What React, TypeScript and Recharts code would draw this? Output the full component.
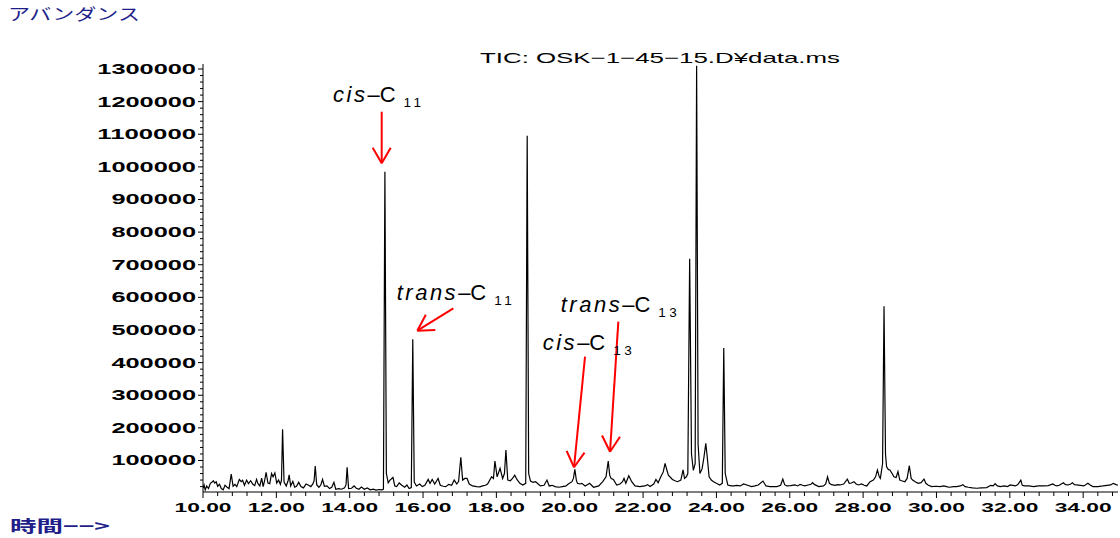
import React from "react";
import { LineChart, Line, XAxis, YAxis, ReferenceLine, ReferenceDot } from "recharts";

// retention time (min) and abundance of the TIC trace
const retentionTime = [
  10.0, 10.03, 10.06, 10.1, 10.15, 10.2, 10.25, 10.28, 10.32, 10.36, 10.4, 10.45, 10.5, 10.55, 10.6, 10.65,
  10.71, 10.77, 10.82, 10.87, 10.92, 10.99, 11.04, 11.08, 11.13, 11.19, 11.24, 11.3, 11.36, 11.41, 11.46,
  11.5, 11.55, 11.6, 11.64, 11.68, 11.72, 11.77, 11.82, 11.87, 11.91, 11.96, 12.01, 12.06, 12.11, 12.14,
  12.17, 12.21, 12.27, 12.32, 12.35, 12.39, 12.45, 12.5, 12.55, 12.61, 12.67, 12.74, 12.81, 12.88, 12.94,
  13.0, 13.03, 13.06, 13.1, 13.16, 13.21, 13.26, 13.31, 13.38, 13.45, 13.51, 13.57, 13.62, 13.7, 13.78,
  13.86, 13.9, 13.93, 13.97, 14.05, 14.12, 14.18, 14.25, 14.32, 14.4, 14.48, 14.56, 14.64, 14.72, 14.8,
  14.88, 14.92, 14.96, 15.0, 15.05, 15.1, 15.18, 15.23, 15.28, 15.35, 15.42, 15.5, 15.56, 15.62, 15.68,
  15.72, 15.76, 15.82, 15.91, 15.98, 16.05, 16.14, 16.19, 16.25, 16.32, 16.41, 16.47, 16.55, 16.62, 16.7,
  16.78, 16.85, 16.92, 16.97, 17.03, 17.08, 17.14, 17.2, 17.26, 17.35, 17.46, 17.55, 17.62, 17.7, 17.76,
  17.87, 17.92, 17.96, 18.02, 18.1, 18.17, 18.22, 18.26, 18.31, 18.38, 18.44, 18.5, 18.56, 18.64, 18.72,
  18.8, 18.84, 18.88, 18.93, 19.0, 19.07, 19.14, 19.2, 19.3, 19.38, 19.44, 19.52, 19.6, 19.7, 19.8, 19.9,
  19.96, 20.06, 20.1, 20.14, 20.18, 20.21, 20.27, 20.33, 20.42, 20.48, 20.54, 20.65, 20.72, 20.79, 20.9,
  20.99, 21.05, 21.09, 21.13, 21.19, 21.28, 21.37, 21.44, 21.48, 21.53, 21.61, 21.69, 21.78, 21.91, 22.05,
  22.12, 22.19, 22.29, 22.35, 22.41, 22.49, 22.55, 22.6, 22.65, 22.69, 22.75, 22.8, 22.87, 22.94, 23.03,
  23.09, 23.13, 23.18, 23.22, 23.27, 23.32, 23.37, 23.42, 23.46, 23.5, 23.55, 23.61, 23.66, 23.71, 23.75,
  23.8, 23.86, 23.92, 24.0, 24.09, 24.13, 24.16, 24.2, 24.24, 24.31, 24.4, 24.47, 24.56, 24.65, 24.74,
  24.85, 24.96, 25.05, 25.14, 25.27, 25.35, 25.46, 25.54, 25.65, 25.75, 25.81, 25.86, 25.92, 26.02, 26.14,
  26.22, 26.28, 26.35, 26.41, 26.5, 26.58, 26.62, 26.68, 26.79, 26.92, 26.98, 27.03, 27.08, 27.14, 27.24,
  27.3, 27.37, 27.47, 27.57, 27.62, 27.68, 27.75, 27.81, 27.87, 27.96, 28.03, 28.1, 28.19, 28.28, 28.34,
  28.39, 28.44, 28.47, 28.53, 28.57, 28.61, 28.64, 28.69, 28.73, 28.79, 28.84, 28.9, 28.95, 29.0, 29.05,
  29.14, 29.2, 29.26, 29.31, 29.35, 29.42, 29.5, 29.58, 29.66, 29.71, 29.78, 29.87, 29.98, 30.1, 30.2,
  30.3, 30.37, 30.46, 30.55, 30.65, 30.72, 30.78, 30.87, 30.98, 31.1, 31.22, 31.37, 31.48, 31.55, 31.6,
  31.66, 31.74, 31.85, 31.94, 32.01, 32.08, 32.15, 32.22, 32.3, 32.34, 32.4, 32.52, 32.65, 32.78, 32.92,
  33.05, 33.17, 33.23, 33.28, 33.35, 33.46, 33.52, 33.59, 33.66, 33.71, 33.76, 33.82, 33.92, 34.02, 34.13,
  34.2, 34.27, 34.4, 34.54, 34.65, 34.75, 34.82, 34.9, 34.95,
];

const abundance = [
  15000, 25000, 10000, 22000, 14000, 30000, 34000, 38000, 31000, 35000, 21000, 27000, 14000, 10000, 24000, 19000,
  14000, 58000, 21000, 27000, 20000, 42000, 35000, 39000, 24000, 40000, 29000, 38000, 27000, 23000, 42000,
  29000, 22000, 46000, 20000, 38000, 64000, 31000, 29000, 60000, 50000, 62000, 31000, 40000, 27000, 40000,
  196000, 34000, 22000, 38000, 56000, 22000, 36000, 18000, 21000, 33000, 20000, 16000, 28000, 24000, 20000,
  29000, 38000, 83000, 26000, 18000, 24000, 42000, 21000, 22000, 14000, 18000, 33000, 12000, 14000, 12000,
  16000, 26000, 79000, 14000, 15000, 22000, 15000, 12000, 19000, 12000, 16000, 10000, 12000, 9000, 11000,
  10000, 12000, 985000, 60000, 32000, 40000, 48000, 22000, 20000, 31000, 24000, 18000, 25000, 14000, 17000,
  472000, 34000, 22000, 28000, 20000, 24000, 42000, 30000, 42000, 28000, 45000, 24000, 21000, 20000, 27000,
  24000, 40000, 28000, 36000, 110000, 40000, 45000, 45000, 28000, 22000, 20000, 19000, 22000, 24000, 28000,
  50000, 45000, 98500, 50000, 76000, 45000, 60000, 132000, 40000, 38000, 45000, 55000, 42000, 30000, 25000,
  30000, 1095000, 60000, 37000, 33000, 35000, 28000, 22000, 24000, 40000, 22000, 24000, 20000, 18000, 20000, 22000,
  28000, 35000, 45000, 73000, 40000, 30000, 28000, 30000, 22000, 26000, 30000, 18000, 20000, 22000, 35000,
  50000, 98500, 55000, 45000, 42000, 25000, 28000, 35000, 45000, 30000, 53000, 35000, 22000, 20000, 22000,
  26000, 20000, 28000, 42000, 32000, 52000, 65000, 91000, 70000, 55000, 48000, 42000, 38000, 35000, 40000,
  71000, 45000, 50000, 60000, 718000, 120000, 70000, 90000, 1310000, 150000, 60000, 75000, 110000, 153000, 110000,
  50000, 40000, 35000, 30000, 25000, 28000, 30000, 445000, 60000, 25000, 22000, 22000, 24000, 22000, 28000,
  24000, 20000, 22000, 25000, 37000, 22000, 20000, 20000, 20000, 24000, 43000, 26000, 22000, 23000, 25000,
  22000, 27000, 24000, 22000, 25000, 27000, 32000, 26000, 20000, 22000, 28000, 50000, 30000, 26000, 24000,
  26000, 25000, 28000, 43000, 30000, 31000, 35000, 28000, 25000, 28000, 24000, 22000, 35000, 40000, 50000,
  71000, 50000, 45000, 90000, 573000, 120000, 81000, 72000, 71000, 60000, 50000, 48000, 66000, 40000, 38000,
  35000, 45000, 84000, 45000, 40000, 35000, 30000, 32000, 43000, 30000, 24000, 20000, 21000, 20000, 22000,
  19000, 18000, 20000, 20000, 22000, 26000, 20000, 18000, 16000, 15000, 16000, 17000, 24000, 22000, 29000,
  22000, 20000, 22000, 20000, 25000, 24000, 22000, 26000, 40000, 24000, 22000, 22000, 20000, 22000, 22000,
  23000, 28000, 24000, 22000, 24000, 32000, 26000, 25000, 28000, 32000, 26000, 25000, 24000, 22000, 30000,
  24000, 20000, 20000, 22000, 24000, 25000, 30000, 26000, 24000,
];

const xLabelTicks = [10, 12, 14, 16, 18, 20, 22, 24, 26, 28, 30, 32, 34];
const yLabelTicks = [100000, 200000, 300000, 400000, 500000, 600000, 700000, 800000, 900000, 1000000, 1100000, 1200000, 1300000];

// minor ticks: 0.4 min on the time axis, 20000 on the abundance axis
const xTicks = Array.from({ length: 63 }, (_, i) => (100 + 4 * i) / 10);
const yTicks = Array.from({ length: 65 }, (_, i) => (i + 1) * 20000);

const peakLabels = [
  { prefix: "cis", sub: "11", t: 13.545, a: 1198900 },
  { prefix: "trans", sub: "11", t: 15.282, a: 592000 },
  { prefix: "trans", sub: "13", t: 19.755, a: 554300 },
  { prefix: "cis", sub: "13", t: 19.264, a: 438700 },
];

const peakArrows = [
  { t1: 14.873, a1: 1169100, t2: 14.873, a2: 1011000 },
  { t1: 16.826, a1: 566500, t2: 15.844, a2: 497900 },
  { t1: 21.325, a1: 525500, t2: 21.099, a2: 127000 },
  { t1: 20.417, a1: 418200, t2: 20.117, a2: 79200 },
];

const data = retentionTime.map((t, i) => ({ t, a: abundance[i] }));

const NAVY = "#1f1f8a";
const FONT = "'Liberation Sans', Arial, sans-serif";

function XTick(props: any) {
  const { x, y, payload } = props;
  const v = payload.value as number;
  const major = Math.abs(v - Math.round(v)) < 1e-6 && Math.round(v) % 2 === 0;
  return (
    <g>
      <line x1={x} y1={y} x2={x} y2={y + (major ? 6 : 4)} stroke="#000" strokeWidth={1} />
      {major && xLabelTicks.includes(Math.round(v)) && (
        <text
          x={x}
          y={y + 20}
          textAnchor="middle"
          fontFamily={FONT}
          fontWeight="bold"
          fontSize={13.5}
          fill="#000"
          textLength={57}
          lengthAdjust="spacingAndGlyphs"
        >
          {v.toFixed(2)}
        </text>
      )}
    </g>
  );
}

function YTick(props: any) {
  const { x, y, payload } = props;
  const v = payload.value as number;
  const major = yLabelTicks.includes(v);
  const label = String(v);
  return (
    <g>
      <line x1={x - (major ? 5 : 3)} y1={y} x2={x} y2={y} stroke="#000" strokeWidth={1} />
      {major && (
        <text
          x={x - 7}
          y={y + 5}
          textAnchor="end"
          fontFamily={FONT}
          fontWeight="bold"
          fontSize={14}
          fill="#000"
          textLength={label.length * 14.1}
          lengthAdjust="spacingAndGlyphs"
        >
          {label}
        </text>
      )}
    </g>
  );
}

function Arrow(props: any) {
  const { x1, y1, x2, y2 } = props;
  const dx = x1 - x2;
  const dy = y1 - y2;
  const len = Math.sqrt(dx * dx + dy * dy) || 1;
  const ux = dx / len;
  const uy = dy / len;
  const w = 18;
  const ang = Math.PI / 6;
  const c = Math.cos(ang);
  const s = Math.sin(ang);
  const w1x = x2 + w * (ux * c - uy * s);
  const w1y = y2 + w * (ux * s + uy * c);
  const w2x = x2 + w * (ux * c + uy * s);
  const w2y = y2 + w * (-ux * s + uy * c);
  return (
    <g stroke="#ff0000" strokeWidth={2} fill="none">
      <line x1={x1} y1={y1} x2={x2} y2={y2} />
      <line x1={x2} y1={y2} x2={w1x} y2={w1y} />
      <line x1={x2} y1={y2} x2={w2x} y2={w2y} />
    </g>
  );
}

function makeLabel(prefix: string, sub: string) {
  return (props: any) => (
    <text x={props.cx} y={props.cy} fontFamily={FONT} fontSize={22} fill="#000">
      <tspan fontStyle="italic" letterSpacing={2.5}>{prefix}</tspan>
      <tspan>–C</tspan>
      <tspan fontSize={13.5} dx={8} dy={5} letterSpacing={3.5}>{sub}</tspan>
    </text>
  );
}

export default function App() {
  return (
    <div style={{ position: "absolute", left: 0, top: 0, width: 1120, height: 538, background: "#fff" }}>
      <LineChart width={1120} height={538} data={data} margin={{ top: 64, right: 2, bottom: 0, left: 0 }}>
        <XAxis
          dataKey="t"
          type="number"
          domain={[10, 34.95]}
          allowDataOverflow
          ticks={xTicks}
          interval={0}
          height={46}
          tickSize={0}
          tickMargin={0}
          tickLine={false}
          axisLine={{ stroke: "#000", strokeWidth: 1 }}
          tick={<XTick />}
        />
        <YAxis
          type="number"
          domain={[3450, 1315300]}
          allowDataOverflow
          ticks={yTicks}
          interval={0}
          width={203}
          tickSize={0}
          tickMargin={0}
          tickLine={false}
          axisLine={{ stroke: "#000", strokeWidth: 1 }}
          tick={<YTick />}
        />
        <Line
          type="linear"
          dataKey="a"
          stroke="#000"
          strokeWidth={1.2}
          dot={false}
          activeDot={false}
          isAnimationActive={false}
        />
        {peakArrows.map((p, i) => (
          <ReferenceLine
            key={"arr" + i}
            segment={[{ x: p.t1, y: p.a1 }, { x: p.t2, y: p.a2 }]}
            shape={Arrow}
          />
        ))}
        {peakLabels.map((p, i) => (
          <ReferenceDot key={"lab" + i} x={p.t} y={p.a} r={1} shape={makeLabel(p.prefix, p.sub)} />
        ))}
      </LineChart>
      <svg
        width={1120}
        height={538}
        style={{ position: "absolute", left: 0, top: 0, pointerEvents: "none" }}
      >
        <text x={8} y={20} fontFamily="'Noto Sans CJK JP', sans-serif" fontSize={16} fill={NAVY} textLength={132} lengthAdjust="spacingAndGlyphs">
          アバンダンス
        </text>
        <text x={480} y={63} fontFamily={FONT} fontSize={15} fill="#000" textLength={360} lengthAdjust="spacingAndGlyphs">
          TIC: OSK−1−45−15.D¥data.ms
        </text>
        <text x={10} y={532} fontFamily="'Noto Sans CJK JP', sans-serif" fontWeight="bold" fontSize={16} fill={NAVY} textLength={100} lengthAdjust="spacingAndGlyphs">
          時間−−&gt;
        </text>
      </svg>
    </div>
  );
}
